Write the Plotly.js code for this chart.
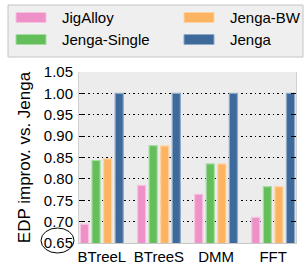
<!DOCTYPE html>
<html>
<head>
<meta charset="utf-8">
<script src="https://cdn.plot.ly/plotly-3.0.1.min.js"></script>
<style>html,body{margin:0;padding:0;background:#fff;}#chart{width:304px;height:267px;}</style>
</head>
<body>
<div id="chart"></div>
<script>
const categories = ["BTreeL", "BTreeS", "DMM", "FFT"];
const seriesNames = ["JigAlloy", "Jenga-Single", "Jenga-BW", "Jenga"];
const jigAlloy = [0.694, 0.785, 0.764, 0.710];
const jengaSingle = [0.843, 0.878, 0.835, 0.782];
const jengaBW = [0.847, 0.877, 0.835, 0.782];
const jenga = [1.00, 1.00, 1.00, 1.00];
const yTicks = [0.65, 0.70, 0.75, 0.80, 0.85, 0.90, 0.95, 1.00, 1.05];
const yTickText = ["0.65", "0.70", "0.75", "0.80", "0.85", "0.90", "0.95", "1.00", "1.05"];

const fills = ["#ee91c8", "#64bf5b", "#fdb462", "#3d6a9a"];
const edges = ["#f5c3e0", "#a6dca1", "#fdd3a4", "#8ea8c6"];
const values = [jigAlloy, jengaSingle, jengaBW, jenga];

const traces = seriesNames.map((n, i) => ({
  type: "bar",
  name: n,
  x: categories,
  y: values[i],
  base: 0,
  showlegend: false,
  marker: {color: fills[i], line: {color: edges[i], width: 1.2}}
}));

const W = 304, H = 267, ml = 79, mr = 8, mt = 72, mb = 24;
const pw = W - ml - mr, ph = H - mt - mb;
const px = v => (v - ml) / pw;
const py = v => (H - mb - v) / ph;

// legend built from series names (2 columns, column-major order)
const shapes = [{
  type: "rect", xref: "paper", yref: "paper",
  x0: px(8), x1: px(303), y0: py(57), y1: py(5),
  fillcolor: "#efefef", line: {color: "#c4c4c4", width: 1}, layer: "above"
}];
const annotations = [];
const colX = [16, 184];
const rowY = [17.5, 39.5];
seriesNames.forEach((n, i) => {
  const c = Math.floor(i / 2), r = i % 2;
  shapes.push({
    type: "rect", xref: "paper", yref: "paper",
    x0: px(colX[c]), x1: px(colX[c] + 30),
    y0: py(rowY[r] + 5), y1: py(rowY[r] - 5),
    fillcolor: fills[i], line: {color: edges[i], width: 1}, layer: "above"
  });
  annotations.push({
    xref: "paper", yref: "paper",
    x: px(colX[c] + 44), y: py(rowY[r]),
    xanchor: "left", yanchor: "middle",
    text: n, showarrow: false,
    font: {size: 15}
  });
});
shapes.push({
  type: "circle",
  xref: "paper", yref: "paper",
  x0: px(41), x1: px(74),
  y0: py(253), y1: py(228),
  line: {color: "#000", width: 1}
});

const layout = {
  width: W, height: H,
  margin: {l: ml, r: mr, t: mt, b: mb, pad: 0},
  paper_bgcolor: "#ffffff",
  plot_bgcolor: "#ececec",
  font: {family: "Liberation Sans, Arial, sans-serif", size: 15, color: "#000"},
  barmode: "group",
  bargap: 0.19,
  bargroupgap: 0.3,
  showlegend: false,
  xaxis: {
    type: "category",
    range: [-0.4, 3.4],
    showgrid: false,
    showline: true,
    linecolor: "#c8c8c8",
    ticks: "",
    tickfont: {size: 15},
    fixedrange: true
  },
  yaxis: {
    range: [0.65, 1.05],
    tickvals: yTicks,
    ticktext: yTickText,
    ticks: "inside",
    ticklen: 5,
    tickcolor: "#000",
    tickwidth: 1,
    mirror: "all",
    showline: true,
    linecolor: "#d0d0d0",
    showgrid: true,
    gridcolor: "#000",
    griddash: "1.5px,3px",
    gridwidth: 1,
    zeroline: false,
    tickfont: {size: 15},
    ticklabelstandoff: 2,
    title: {text: "EDP improv. vs. Jenga", font: {size: 17}, standoff: 8},
    fixedrange: true
  },
  shapes: shapes,
  annotations: annotations
};

Plotly.newPlot("chart", traces, layout, {displayModeBar: false, staticPlot: true});
</script>
</body>
</html>
